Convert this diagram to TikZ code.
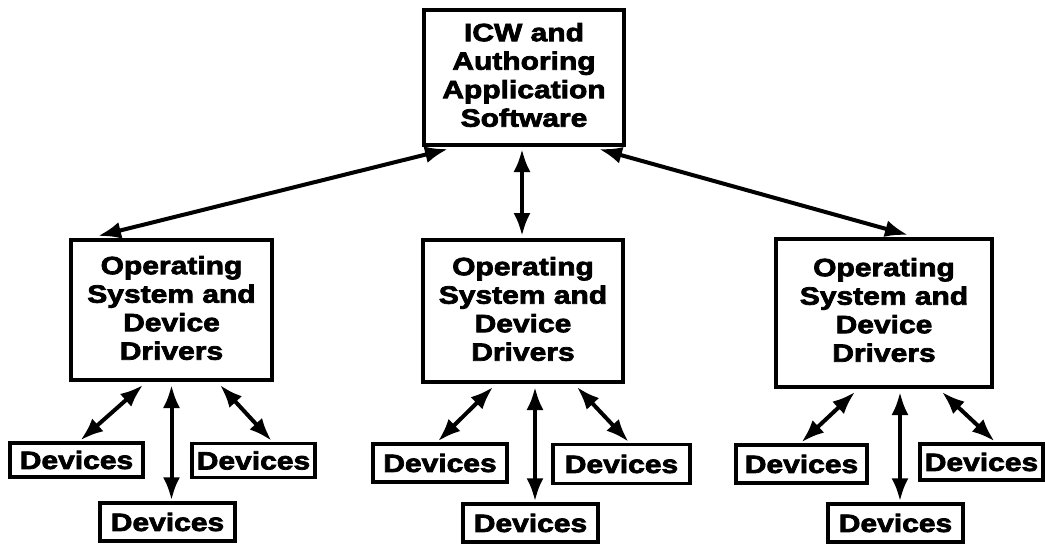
\documentclass[tikz,border=0pt]{standalone}
\usepackage{fontspec}
\newfontfamily\lbl{Liberation Sans}[FakeStretch=1.2,FakeBold=3]
\usetikzlibrary{arrows.meta,calc}
\begin{document}
\begin{tikzpicture}[x=1pt,y=-1pt,
  box/.style={draw,line width=4pt,inner sep=0pt,align=center,
    font=\lbl\bfseries\fontsize{25}{28.5}\selectfont},
  dev/.style={draw,line width=3.5pt,inner sep=0pt,align=center,
    font=\lbl\bfseries\fontsize{25}{28}\selectfont},
  link/.style={line width=4pt,{Latex[length=23pt,width=17pt]}-{Latex[length=23pt,width=17pt]}}]
\useasboundingbox (0,0) rectangle (1045,546);
% main boxes
\node[box,minimum width=200pt,minimum height=135pt] (T) at (524,77.5) {ICW and\\Authoring\\Application\\Software\vspace{5pt}};
\node[box,minimum width=201pt,minimum height=140pt] (L) at (171.5,310) {Operating\\System and\\Device\\Drivers\vspace{4pt}};
\node[box,minimum width=200pt,minimum height=142pt] (M) at (523,311) {Operating\\System and\\Device\\Drivers\vspace{4pt}};
\node[box,minimum width=216pt,minimum height=148pt] (R) at (884,313) {Operating\\System and\\Device\\Drivers\vspace{6pt}};
% devices
\node[dev,minimum width=133pt,minimum height=34pt] (L1) at (76.5,460) {Devices};
\node[dev,minimum width=135pt,minimum height=38pt] (L2) at (167.5,522) {Devices};
\node[dev,minimum width=123pt,minimum height=34pt] (L3) at (253.5,460.5) {Devices};
\node[dev,minimum width=134pt,minimum height=38pt] (M1) at (440,463) {Devices};
\node[dev,minimum width=135pt,minimum height=38pt] (M2) at (530.5,523) {Devices};
\node[dev,minimum width=137pt,minimum height=39pt] (M3) at (621.5,464) {Devices};
\node[dev,minimum width=131pt,minimum height=38pt] (R1) at (801.5,464) {Devices};
\node[dev,minimum width=135pt,minimum height=38pt] (R2) at (895.5,523) {Devices};
\node[dev,minimum width=123pt,minimum height=36pt] (R3) at (981.5,462) {Devices};
% top links
\draw[link] ($(T.south west)+(26,2)$) -- ($(L.north west)+(29,-2)$);
\draw[link] ($(T.south)+(-2,2)$) -- ($(T.south |- M.north)+(-2,-2)$);
\draw[link] ($(T.south east)+(-27,2)$) -- ($(R.north west)+(134,-2)$);
% left group
\draw[link] ($(L.south west)+(74,3)$) -- ($(L1.north)+(4,-1)$);
\draw[link] ($(L.south)+(0,3)$) -- ($(L.south |- L2.north)+(0,-1)$);
\draw[link] ($(L.south east)+(-54,3)$) -- ($(L3.north)+(18,-1)$);
% middle group
\draw[link] ($(M.south west)+(72,3)$) -- ($(M1.north)+(-2,-1)$);
\draw[link] ($(M.south)+(12,3)$) -- ($(M.south |- M2.north)+(12,-1)$);
\draw[link] ($(M.south east)+(-48,3)$) -- ($(M3.north)+(7,-1)$);
% right group
\draw[link] ($(R.south west)+(81,3)$) -- ($(R1.north)+(0,-1)$);
\draw[link] ($(R.south)+(16,3)$) -- ($(R.south |- R2.north)+(16,-1)$);
\draw[link] ($(R.south east)+(-52,3)$) -- ($(R3.north)+(13,-1)$);
\end{tikzpicture}
\end{document}
